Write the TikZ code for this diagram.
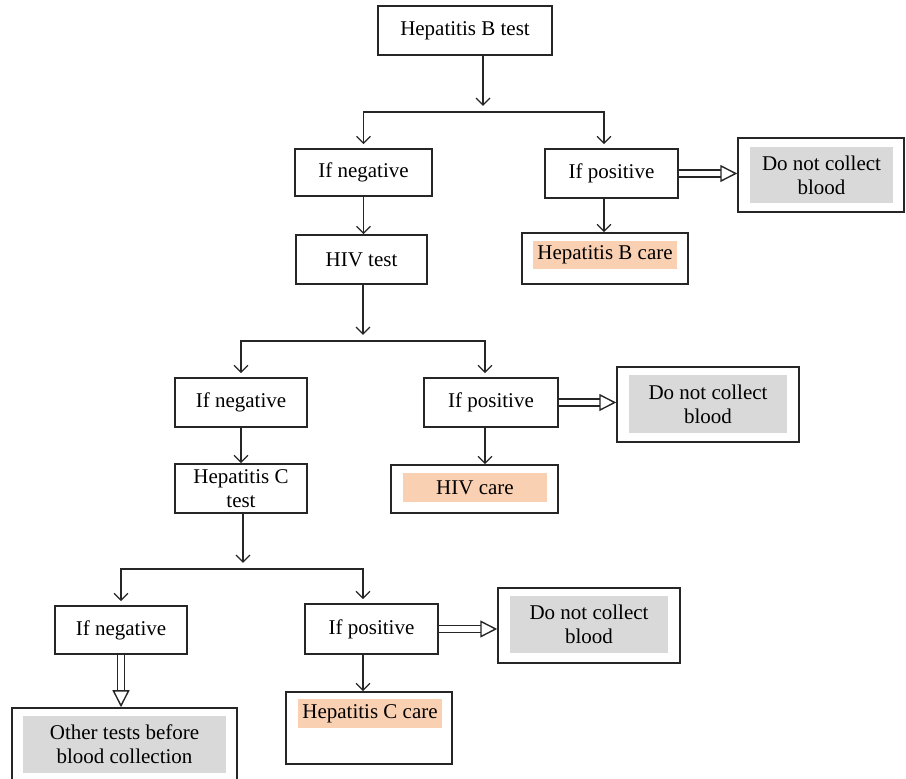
\documentclass[tikz,border=0pt]{standalone}
\usepackage{fontspec}
\setmainfont{Liberation Serif}
\usetikzlibrary{arrows.meta,calc}
\definecolor{grayfill}{RGB}{217,217,217}
\definecolor{carefill}{RGB}{249,208,178}

\begin{document}
\begin{tikzpicture}
  [
  x=0.5pt, y=-0.5pt,
  font=\fontsize{10.5}{12}\selectfont, line width=0.65pt,
  arr/.style={-{Straight Barb[length=3.5pt,width=7pt]}, draw=black!85},
  dbl/.style={double, double distance=2.8pt, line width=0.7pt, -{Triangle[open,length=8.5pt,width=8.5pt]}, draw=black!85},
  box/.style 2 args={rectangle, draw=black!85, line width=0.75pt, minimum width=#1*0.5pt, minimum height=#2*0.5pt, inner sep=0pt, align=center},
  fillbox/.style n args={3}{rectangle, fill=#1, minimum width=#2*0.5pt, minimum height=#3*0.5pt, inner sep=0pt, align=center}
  ]
\useasboundingbox (0,0) rectangle (906,779);

% first test
\node[box={174}{49}] (hbt) at (465,30.5) {Hepatitis B test};
\node[box={137}{47}] (neg1) at (363.5,172.5) {If negative};
\node[box={133}{49}] (pos1) at (611.5,173.5) {If positive};
\node[box={166}{74}] (dnc1) at (821,175) {};
\node[fillbox={grayfill}{143}{56}] (dnc1t) at (821.5,175) {Do not collect\\blood};
\node[box={166}{51}] (hbc) at (605,258.5) {};
\node[fillbox={carefill}{144}{28}] (hbct) at (605,255) {Hepatitis B care};

% second test
\node[box={131}{49}] (hiv) at (361.5,259.5) {HIV test};
\node[box={132}{49}] (neg2) at (241,402.5) {If negative};
\node[box={134}{49}] (pos2) at (491,402.5) {If positive};
\node[box={182}{75}] (dnc2) at (708,404.5) {};
\node[fillbox={grayfill}{158}{58}] (dnc2t) at (708,404) {Do not collect\\blood};
\node[box={167}{48}] (hivc) at (474.5,489) {};
\node[fillbox={carefill}{144}{29}] (hivct) at (475,487.5) {HIV care};

% third test
\node[box={132}{49}] (hct) at (241,488.5) {Hepatitis C\\test};
\node[box={132}{48}] (neg3) at (121,630) {If negative};
\node[box={133}{50}] (pos3) at (371.5,629) {If positive};
\node[box={182}{75}] (dnc3) at (589,625.5) {};
\node[fillbox={grayfill}{158}{57}] (dnc3t) at (589,624.5) {Do not collect\\blood};
\node[box={166}{72}] (hcc) at (369,728) {};
\node[fillbox={carefill}{144}{29}] (hcct) at (370,713.5) {Hepatitis C care};
\node[box={225}{80}] (oth) at (124.5,748) {};
\node[fillbox={grayfill}{203}{57}] (otht) at (124.5,744.5) {Other tests before\\blood collection};

\coordinate (j1) at (483,112);
\coordinate (j2) at (363,341);
\coordinate (j3) at (243,569);

\draw[arr, shorten >=3pt] (hbt.south -| j1) -- (j1);
\draw[arr, shorten >=2pt] (j1) -| (neg1.north);
\draw[arr, shorten >=2pt] (j1) -| ([xshift=-3.75pt]pos1.north);
\draw[arr] (neg1.south) -- (neg1.south |- hiv.north);
\draw[arr] ([xshift=-3.75pt]pos1.south) -- ([xshift=-3.75pt]pos1.south |- hbc.north);
\draw[dbl] (pos1.east) -- (pos1.east -| dnc1.west);

\draw[arr, shorten >=3pt] (hiv.south -| j2) -- (j2);
\draw[arr, shorten >=2pt] (j2) -| (neg2.north);
\draw[arr, shorten >=2pt] (j2) -| ([xshift=-3pt]pos2.north);
\draw[arr] (neg2.south) -- (neg2.south |- hct.north);
\draw[arr] ([xshift=-3pt]pos2.south) -- ([xshift=-3pt]pos2.south |- hivc.north);
\draw[dbl] (pos2.east) -- (pos2.east -| dnc2.west);

\draw[arr, shorten >=3pt] (hct.south -| j3) -- (j3);
\draw[arr, shorten >=2pt] (j3) -| (neg3.north);
\draw[arr, shorten >=2pt] (j3) -| ([xshift=-4.25pt]pos3.north);
\draw[arr] ([xshift=-4.25pt]pos3.south) -- ([xshift=-4.25pt]pos3.south |- hcc.north);
\draw[dbl] (pos3.east) -- (pos3.east -| dnc3.west);
\draw[dbl] (neg3.south) -- (neg3.south |- oth.north);

\end{tikzpicture}
\end{document}
